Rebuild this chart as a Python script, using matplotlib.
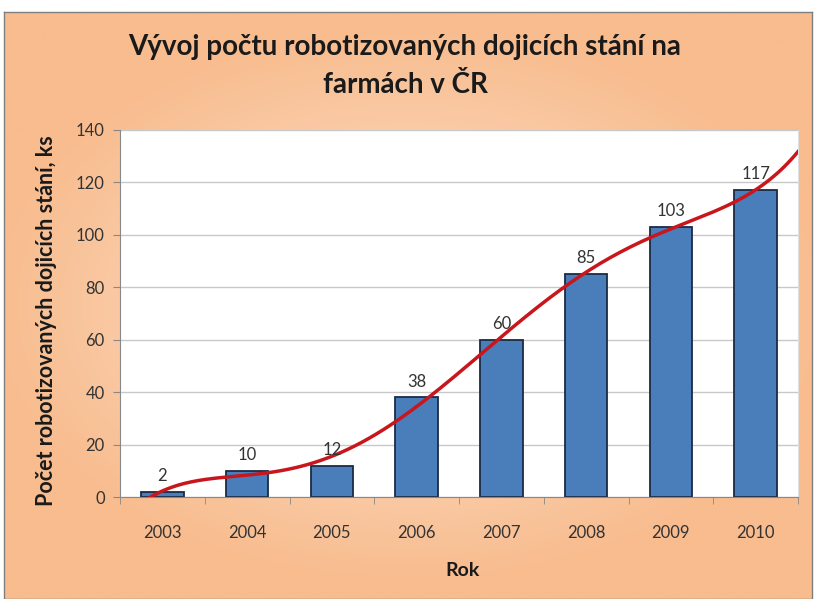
import numpy as np
import matplotlib.pyplot as plt

plt.rcParams['font.family'] = ['Lato', 'DejaVu Sans']

years = ["2003", "2004", "2005", "2006", "2007", "2008", "2009", "2010"]
counts = [2, 10, 12, 38, 60, 85, 103, 117]
title = "Vývoj počtu robotizovaných dojicích stání na\nfarmách v ČR"
ylabel = "Počet robotizovaných dojicích stání, ks"
xlabel = "Rok"

fig = plt.figure(figsize=(8.15, 5.99), dpi=100)

# radial orange background
bg = fig.add_axes([4/815, 0, 808/815, 587/599])
gx, gy = np.meshgrid(np.linspace(-1, 1, 300), np.linspace(-1, 1, 300))
r = np.clip(np.sqrt(gx**2 + (gy * 1.1)**2) / 1.05, 0, 1) ** 0.8
inner = np.array([253, 236, 222]) / 255
outer = np.array([248, 188, 142]) / 255
img = inner[None, None, :] * (1 - r[..., None]) + outer[None, None, :] * r[..., None]
bg.imshow(img, aspect='auto', extent=[0, 1, 0, 1])
bg.set_xticks([])
bg.set_yticks([])
for s in bg.spines.values():
    s.set_color('#7f7f7f')
    s.set_linewidth(1)

ax = fig.add_axes([120/815, 102/599, 678/815, 367/599])
x = np.arange(len(years))
ax.set_facecolor('white')
ax.bar(x, counts, width=0.5, color='#4A7EBB', edgecolor='#1B2A45', linewidth=1.3, zorder=2)
for xi, v in zip(x, counts):
    ax.text(xi, v + 3, str(v), ha='center', va='bottom', fontsize=12, color='#333333', zorder=4)

# polynomial trend line like the Excel one
coef = np.polyfit(x, counts, 5)
xt = np.linspace(-0.5, 7.5, 200)
ax.plot(xt, np.polyval(coef, xt), color='#C8161D', linewidth=2.5, zorder=3)

ax.set_xlim(-0.5, 7.5)
ax.set_ylim(0, 140)
ax.set_yticks(range(0, 141, 20))
ax.set_xticks(x)
ax.set_xticklabels(years)
ax.set_xticks(np.arange(-0.5, 8, 1), minor=True)
ax.tick_params(axis='x', which='major', length=0, pad=20, labelsize=12, labelcolor='#333333')
ax.tick_params(axis='x', which='minor', length=5, color='#888888')
ax.tick_params(axis='y', length=5, color='#888888', labelsize=12, labelcolor='#333333', pad=6)
ax.grid(axis='y', color='#c8c8c8', linewidth=1, zorder=0)
ax.set_axisbelow(True)
ax.spines['top'].set_visible(False)
ax.spines['right'].set_color('#e0e0e0')
ax.spines['left'].set_color('#888888')
ax.spines['bottom'].set_color('#888888')

fig.text(0.497, 0.89, title, ha='center', va='center', fontsize=20, fontweight='bold',
         color='#1a1a1a', linespacing=1.55)
fig.text(0.057, 0.465, ylabel, rotation=90, ha='center', va='center', fontsize=15.5,
         fontweight='bold', color='#1a1a1a')
fig.text(0.567, 0.048, xlabel, ha='center', va='center', fontsize=14, fontweight='bold',
         color='#1a1a1a')

fig.savefig('out.png', dpi=100)
